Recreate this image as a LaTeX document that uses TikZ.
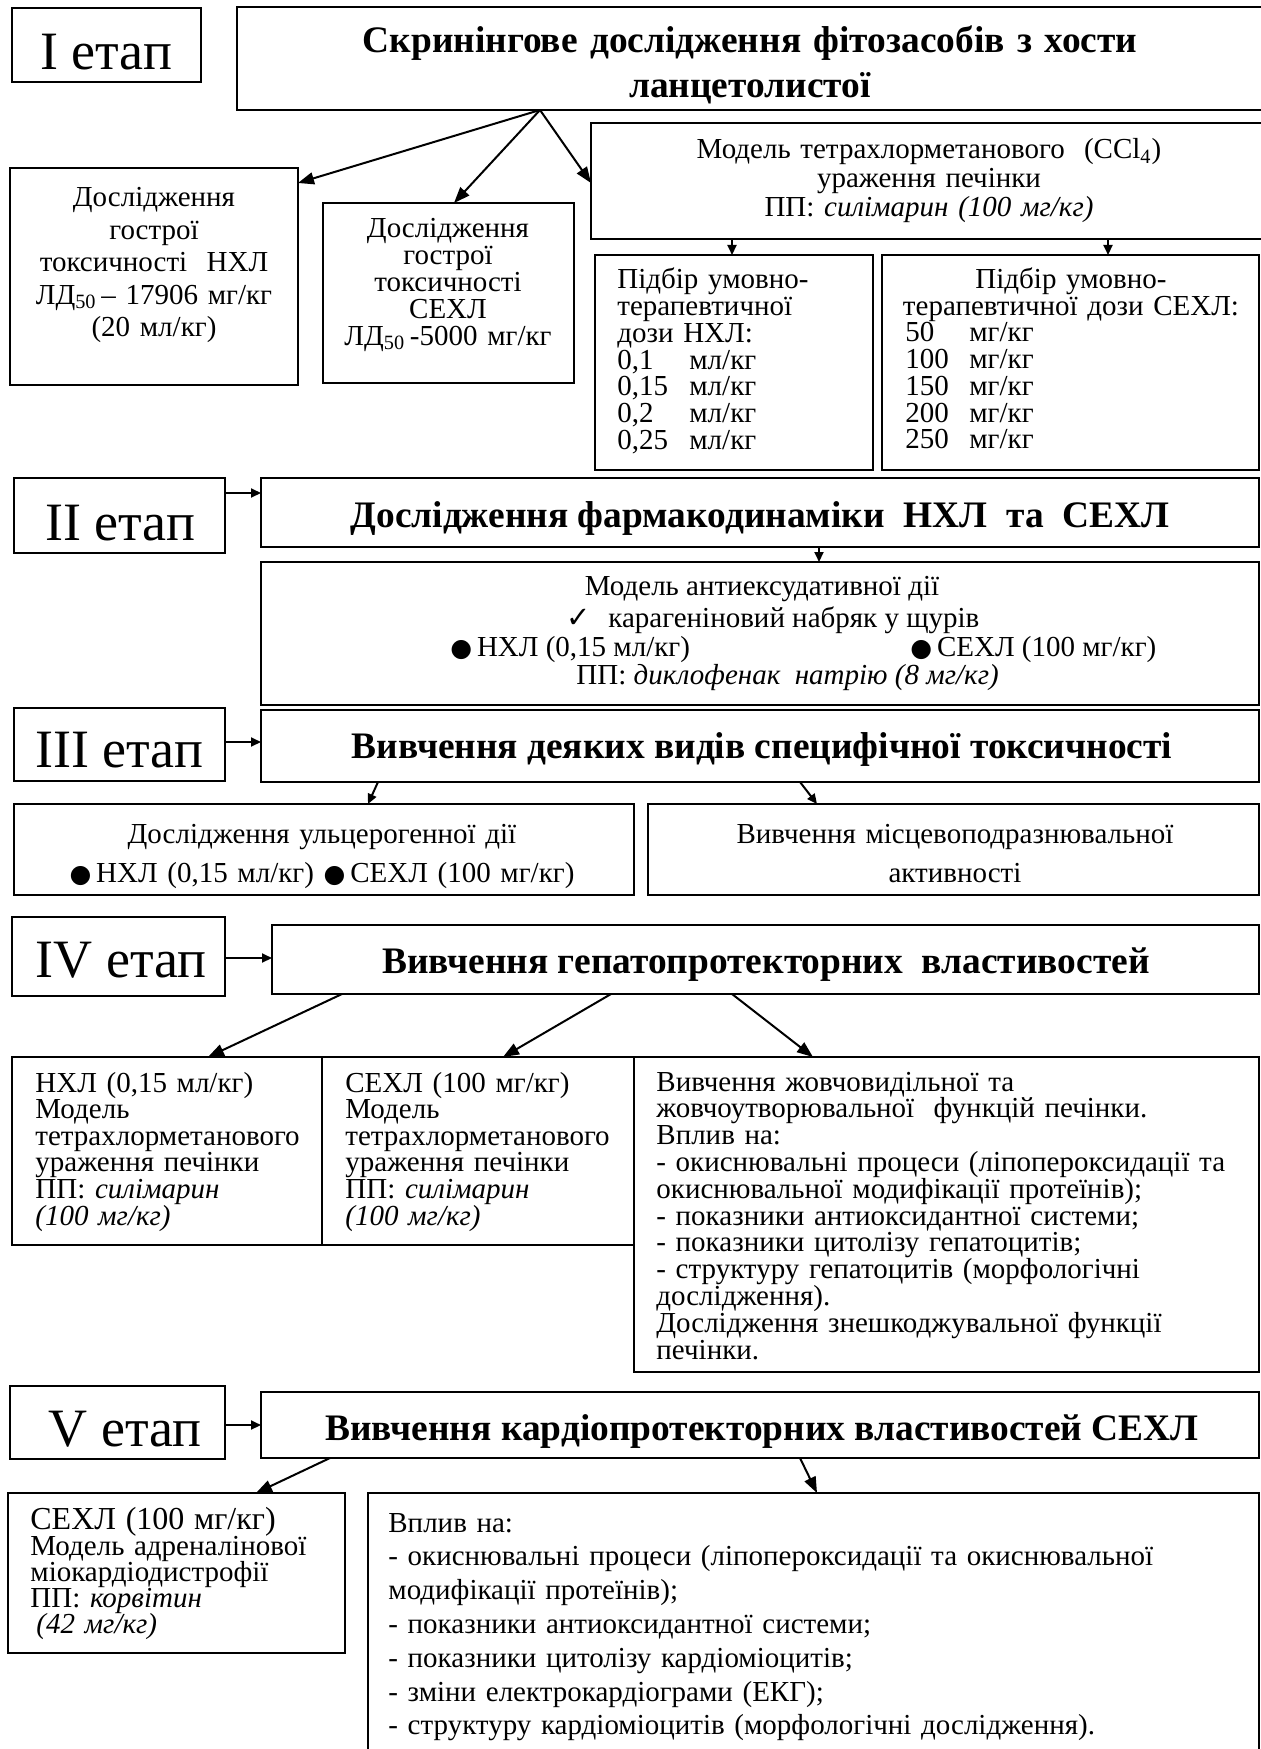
\documentclass[tikz,border=0pt]{standalone}
\usepackage{fontspec}
\setmainfont{Liberation Serif}
\newfontfamily\dejavu{DejaVu Sans}
\usetikzlibrary{arrows.meta,calc}
\newcommand\bx[5]{\node[box, minimum width={(#4-#2)*0.5pt}, minimum height={(#5-#3)*0.5pt}] (#1) at (#2,#3) {};}
\newcommand\tight{\lineskiplimit=-100pt\relax}
\newcommand\bul{{\fontsize{12.5}{12}\dejavu ●}}
\begin{document}
\begin{tikzpicture}[x=0.5pt,y=-0.5pt,
  box/.style={draw, line width=1pt, inner sep=0pt, outer sep=0pt, anchor=north west},
  lbl/.style={inner sep=0pt, anchor=base, font=\fontsize{27}{30}\selectfont},
  hd/.style={inner sep=0pt, anchor=base, font=\fontsize{18.7}{22.5}\selectfont\bfseries},
  txt/.style={inner sep=0pt, font=\fontsize{14.5}{13}\selectfont},
  arr/.style={line width=1pt, -{Triangle[length=8pt,width=6pt]}},
  sarr/.style={line width=1pt, -{Triangle[length=5pt,width=4.5pt]}},
]
\path[use as bounding box] (0,0) rectangle (1261,1749);
\clip (0,0) rectangle (1261,1749);
\fill[white] (0,0) rectangle (1261,1749);

% ---------- Stage I ----------
\bx{SI}{12}{8}{201}{82}
\node[lbl] (tSI) at (106,70) {I етап};
\bx{M1}{237}{7}{1275}{110}
\node[hd, align=center, text width=500pt] (tM1) at (750,53) {Скринінгове дослідження фітозасобів з хости\\ланцетолистої};

\bx{B1}{10}{168}{298}{385}
\node[txt, anchor=base, align=center, text width=140pt, font=\fontsize{14.5}{16.2}\selectfont\tight] (tB1) at (154,207)
  {Дослідження\\гострої\\токсичності\ \ НХЛ\\ЛД\textsubscript{50}\,– 17906 мг/кг\\(20 мл/кг)};
\bx{B2}{323}{203}{574}{383}
\node[txt, anchor=base, align=center, text width=120pt, font=\fontsize{14.5}{13.4}\selectfont\tight] (tB2) at (448,238)
  {Дослідження\\гострої\\токсичності\\СЕХЛ\\ЛД\textsubscript{50}\,-5000 мг/кг};
\bx{C1}{591}{123}{1275}{239}
\node[txt, anchor=base, align=center, text width=330pt, font=\fontsize{14.5}{14.5}\selectfont\tight] (tC1) at (929,159)
  {Модель тетрахлорметанового\ \ (CCl\textsubscript{4})\\ураження печінки\\ПП: \textit{силімарин (100 мг/кг)}};

\bx{D1}{595}{255}{873}{470}
\node[txt, anchor=base west, align=left, text width=125pt, font=\fontsize{14.5}{13.35}\selectfont\tight] (tD1) at (617,289)
  {Підбір умовно-\\терапевтичної\\дози НХЛ:\\\makebox[36pt][l]{0,1}мл/кг\\\makebox[36pt][l]{0,15}мл/кг\\\makebox[36pt][l]{0,2}мл/кг\\\makebox[36pt][l]{0,25}мл/кг};
\bx{D2}{882}{255}{1259}{470}
\node[txt, anchor=base, align=center, text width=180pt, font=\fontsize{14.5}{13.35}\selectfont\tight] (tD2a) at (1071,289)
  {Підбір умовно-\\терапевтичної дози СЕХЛ:};
\node[txt, anchor=base west, align=left, text width=120pt, font=\fontsize{14.5}{13.35}\selectfont\tight] (tD2b) at (905,342)
  {\makebox[32pt][l]{50}мг/кг\\\makebox[32pt][l]{100}мг/кг\\\makebox[32pt][l]{150}мг/кг\\\makebox[32pt][l]{200}мг/кг\\\makebox[32pt][l]{250}мг/кг};

\draw[arr] ($(M1.south west)+(303,0)$) -- ($(B1.north east)+(0,15)$);
\draw[arr] ($(M1.south west)+(303,0)$) -- ($(B2.north west)+(131,0)$);
\draw[arr] ($(M1.south west)+(303,0)$) -- ($(C1.north west)+(0,60)$);
\draw[sarr] ($(C1.south west)+(141,0)$) -- ($(D1.north west)+(137,0)$);
\draw[sarr] ($(C1.south west)+(517,0)$) -- ($(D2.north west)+(226,0)$);

% ---------- Stage II ----------
\bx{SII}{14}{478}{225}{553}
\node[lbl] (tSII) at (120,540) {II етап};
\bx{M2}{261}{478}{1259}{547}
\node[hd] (tM2) at (760,527) {Дослідження фармакодинаміки\ \ НХЛ\ \ та\ \ СЕХЛ};
\bx{AE}{261}{562}{1259}{705}
\node[txt, anchor=base] (tAE1) at (762,595) {Модель антиексудативної дії};
\node[txt, anchor=base west] (tAEc) at (566,627) {\dejavu ✓};
\node[txt, anchor=base west] (tAE2) at (608,627) {карагеніновий набряк у щурів};
\node[txt, anchor=base west] (tAE3) at (450,656) {\bul\,НХЛ (0,15 мл/кг)};
\node[txt, anchor=base west] (tAE4) at (910,656) {\bul\,СЕХЛ (100 мг/кг)};
\node[txt, anchor=base west] (tAE5) at (576,684) {ПП: \textit{диклофенак\ \ натрію (8 мг/кг)}};
\draw[sarr] ($(SII.north east)+(0,15)$) -- ($(M2.north west)+(0,15)$);
\draw[sarr] ($(M2.south west)+(558,0)$) -- ($(AE.north west)+(558,0)$);

% ---------- Stage III ----------
\bx{SIII}{14}{708}{225}{781}
\node[lbl] (tSIII) at (119,767) {III етап};
\bx{M3}{261}{710}{1259}{782}
\node[hd] (tM3) at (762,758) {Вивчення деяких видів специфічної токсичності};
\bx{U}{14}{804}{634}{895}
\node[txt, anchor=base, align=center, text width=300pt, font=\fontsize{14.5}{19.5}\selectfont\tight] (tU) at (322,843)
  {Дослідження ульцерогенної дії\\\bul\,НХЛ (0,15 мл/кг)\ \bul\,СЕХЛ (100 мг/кг)};
\bx{L}{648}{804}{1259}{895}
\node[txt, anchor=base, align=center, text width=300pt, font=\fontsize{14.5}{19.5}\selectfont\tight] (tL) at (955,843)
  {Вивчення місцевоподразнювальної\\активності};
\draw[sarr] ($(SIII.north east)+(0,34)$) -- ($(M3.north west)+(0,32)$);
\draw[sarr] ($(M3.south west)+(117,0)$) -- ($(U.north west)+(354,0)$);
\draw[sarr] ($(M3.south west)+(539,0)$) -- ($(L.north west)+(169,0)$);

% ---------- Stage IV ----------
\bx{SIV}{12}{917}{225}{996}
\node[lbl] (tSIV) at (121,977) {IV етап};
\bx{M4}{272}{925}{1259}{994}
\node[hd] (tM4) at (766,973) {Вивчення гепатопротекторних\ \ властивостей};
\bx{A}{12}{1057}{322}{1245}
\node[txt, anchor=base west, align=left, text width=150pt, font=\fontsize{14.5}{13.3}\selectfont\tight] (tA) at (35,1092)
  {НХЛ (0,15 мл/кг)\\Модель\\тетрахлорметанового\\ураження печінки\\ПП: \textit{силімарин}\\\textit{(100 мг/кг)}};
\bx{B}{322}{1057}{634}{1245}
\node[txt, anchor=base west, align=left, text width=150pt, font=\fontsize{14.5}{13.3}\selectfont\tight] (tB) at (345,1092)
  {СЕХЛ (100 мг/кг)\\Модель\\тетрахлорметанового\\ураження печінки\\ПП: \textit{силімарин}\\\textit{(100 мг/кг)}};
\bx{C}{634}{1057}{1259}{1372}
\node[txt, anchor=base west, align=left, text width=295pt, font=\fontsize{14.5}{13.4}\selectfont\tight] (tC) at (656,1091)
  {Вивчення жовчовидільної та\\жовчоутворювальної\ \ функцій печінки.\\Вплив на:\\- окиснювальні процеси (ліпопероксидації та\\окиснювальної модифікації протеїнів);\\- показники антиоксидантної системи;\\- показники цитолізу гепатоцитів;\\- структуру гепатоцитів (морфологічні\\дослідження).\\Дослідження знешкоджувальної функції\\печінки.};
\draw[sarr] ($(SIV.north east)+(0,41)$) -- ($(M4.north west)+(0,33)$);
\draw[arr] ($(M4.south west)+(70,0)$) -- ($(A.north west)+(196,0)$);
\draw[arr] ($(M4.south west)+(339,0)$) -- ($(B.north west)+(181,0)$);
\draw[arr] ($(M4.south west)+(460,0)$) -- ($(C.north west)+(179,0)$);

% ---------- Stage V ----------
\bx{SV}{10}{1386}{225}{1459}
\node[lbl] (tSV) at (125,1446) {V етап};
\bx{M5}{261}{1392}{1259}{1458}
\node[hd] (tM5) at (762,1440) {Вивчення кардіопротекторних властивостей СЕХЛ};
\bx{K}{8}{1493}{345}{1653}
\node[txt, anchor=base west, align=left, text width=160pt, font=\fontsize{14.5}{13}\selectfont\tight] (tK) at (30,1529)
  {{\fontsize{16}{12}\selectfont СЕХЛ (100 мг/кг)}\\Модель адреналінової\\міокардіодистрофії\\ПП: \textit{корвітин}\\\hspace*{3pt}\textit{(42 мг/кг)}};
\bx{E}{368}{1493}{1259}{1760}
\node[txt, anchor=base west, align=left, text width=430pt, font=\fontsize{14.5}{16.9}\selectfont\tight] (tE) at (388,1532)
  {Вплив на:\\- окиснювальні процеси (ліпопероксидації та окиснювальної\\модифікації протеїнів);\\- показники антиоксидантної системи;\\- показники цитолізу кардіоміоцитів;\\- зміни електрокардіограми (ЕКГ);\\- структуру кардіоміоцитів (морфологічні дослідження).};
\draw[sarr] ($(SV.north east)+(0,39)$) -- ($(M5.north west)+(0,33)$);
\draw[arr] ($(M5.south west)+(69,0)$) -- ($(K.north west)+(248,0)$);
\draw[arr] ($(M5.south west)+(539,0)$) -- ($(E.north west)+(449,0)$);
\end{tikzpicture}
\end{document}
